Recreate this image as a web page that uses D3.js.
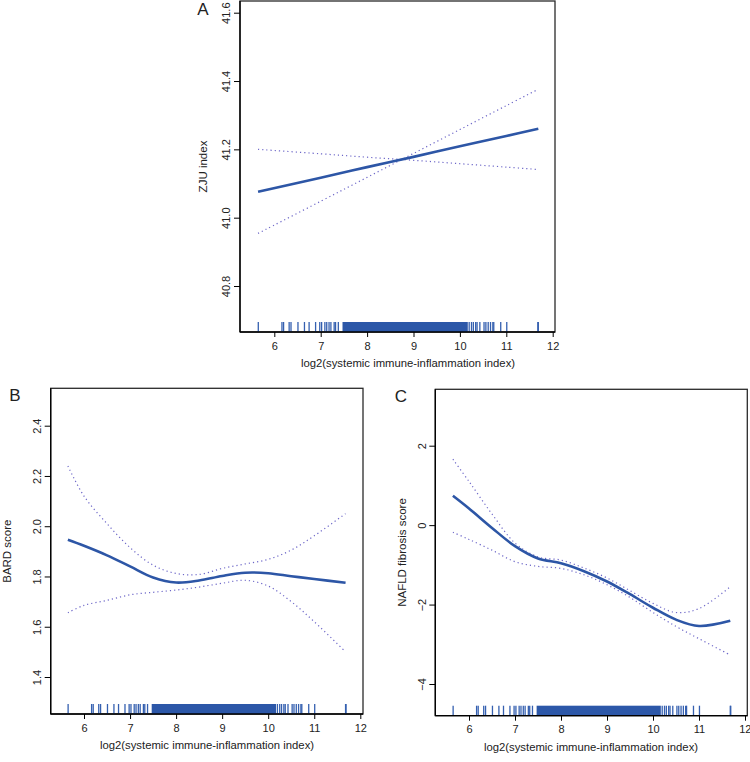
<!DOCTYPE html>
<html>
<head>
<meta charset="utf-8">
<script src="https://cdn.jsdelivr.net/npm/d3@7"></script>
<style>
  body { margin: 0; background: #fff; }
  text { font-family: "Liberation Sans", Arial, sans-serif; fill: #222; }
</style>
</head>
<body>
<script>
// ---- data ----
var xTicks = [6, 7, 8, 9, 10, 11, 12]

// panel A: ZJU index
var xsA = [5.65, 7, 8, 9, 10, 11, 11.69]
var fitA = [41.076, 41.117, 41.148, 41.178, 41.209, 41.239, 41.26]
var ci1A = [41.200, 41.187, 41.177, 41.168, 41.158, 41.148, 41.141]
var ci2A = [40.954, 41.048, 41.118, 41.188, 41.258, 41.328, 41.376]
var yTicksA = [40.8, 41.0, 41.2, 41.4, 41.6]

// panel B: BARD score
var xsB = [5.65, 6, 6.5, 7, 7.5, 8, 8.5, 9, 9.5, 10, 10.5, 11, 11.68]
var fitB = [1.946, 1.922, 1.884, 1.840, 1.796, 1.776, 1.784, 1.802, 1.815, 1.813, 1.801, 1.79, 1.775]
var upB = [2.24, 2.12, 2.01, 1.915, 1.845, 1.812, 1.808, 1.832, 1.85, 1.868, 1.905, 1.962, 2.05]
var loB = [1.656, 1.685, 1.705, 1.727, 1.737, 1.746, 1.758, 1.773, 1.785, 1.762, 1.70, 1.62, 1.50]
var yTicksB = [1.4, 1.6, 1.8, 2.0, 2.2, 2.4]

// panel C: NAFLD fibrosis score
var xsC = [5.65, 6, 6.5, 7, 7.5, 8, 8.5, 9, 9.5, 10, 10.5, 11, 11.68]
var fitC = [0.74, 0.42, -0.07, -0.53, -0.84, -0.96, -1.16, -1.42, -1.74, -2.08, -2.38, -2.54, -2.41]
var upC = [1.66, 1.1, 0.28, -0.45, -0.80, -0.88, -1.08, -1.33, -1.65, -1.97, -2.2, -2.1, -1.55]
var loC = [-0.18, -0.36, -0.63, -0.92, -1.04, -1.09, -1.25, -1.5, -1.82, -2.2, -2.55, -2.86, -3.27]
var yTicksC = [-4, -2, 0, 2]

// rug (same observations in every panel)
var rugSingles = [5.655, 6.165, 6.20, 6.32, 6.36, 6.51, 6.65, 6.75, 6.89, 6.98, 7.02, 7.09, 7.13,
  7.18, 7.22, 7.29, 7.32, 7.38, 10.2, 10.25, 10.29, 10.34, 10.37, 10.43, 10.52, 10.56, 10.61,
  10.66, 10.71, 10.73, 10.88, 11.01, 11.68, 11.69]
var rugDense = [7.47, 10.17]

var xTitle = "log2(systemic immune-inflammation index)"

// ---- layout ----
var panels = [
  { letter: "A", ylab: "ZJU index", xs: xsA, fit: fitA, ciA: ci1A, ciB: ci2A, yTicks: yTicksA, fmt: ".1f",
    box: [240, 555, 1, 332], xr: [274.3, 552.7], ydom: [40.8, 41.6], yr: [286, 12.7],
    letterPos: [203, 9], ylabX: 203, xlabX: 408 },
  { letter: "B", ylab: "BARD score", xs: xsB, fit: fitB, ciA: upB, ciB: loB, yTicks: yTicksB, fmt: ".1f",
    box: [50.7, 363, 388.3, 714], xr: [84, 360.3], ydom: [1.4, 2.4], yr: [677, 425.7],
    letterPos: [15, 395], ylabX: 7, xlabX: 207 },
  { letter: "C", ylab: "NAFLD fibrosis score", xs: xsC, fit: fitC, ciA: upC, ciB: loC, yTicks: yTicksC, fmt: "d",
    box: [435.3, 747.3, 389.3, 715.7], xr: [469, 745], ydom: [-4, 2], yr: [684, 445.7],
    letterPos: [401, 396], ylabX: 402, xlabX: 591 }
]

var svg = d3.select("body").append("svg")
  .attr("width", 750)
  .attr("height", 762)

panels.forEach(function(p) {
  var L = p.box[0], R = p.box[1], T = p.box[2], B = p.box[3]
  var x = d3.scaleLinear().domain([6, 12]).range(p.xr)
  var y = d3.scaleLinear().domain(p.ydom).range(p.yr)
  var g = svg.append("g")

  // frame
  g.append("rect")
    .attr("x", L).attr("y", T)
    .attr("width", R - L).attr("height", B - T)
    .attr("fill", "none").attr("stroke", "#2a2a2a").attr("stroke-width", 1.3)

  // rug
  g.append("rect")
    .attr("x", x(rugDense[0])).attr("y", B - 10)
    .attr("width", x(rugDense[1]) - x(rugDense[0])).attr("height", 10)
    .attr("fill", "#2c57a8")
  g.selectAll("line.rug")
    .data(rugSingles)
    .enter().append("line")
    .attr("class", "rug")
    .attr("x1", function(d) { return x(d) }).attr("x2", function(d) { return x(d) })
    .attr("y1", B - 10).attr("y2", B)
    .attr("stroke", "#3560b0").attr("stroke-width", 1.3)

  // curves
  var line = d3.line()
    .x(function(d, i) { return x(p.xs[i]) })
    .y(function(d) { return y(d) })
    .curve(d3.curveCatmullRom)

  ;[p.ciA, p.ciB].forEach(function(ci) {
    g.append("path")
      .attr("d", line(ci))
      .attr("fill", "none")
      .attr("stroke", "#6d67c8")
      .attr("stroke-width", 1.2)
      .attr("stroke-dasharray", "1.2,3")
  })
  g.append("path")
    .attr("d", line(p.fit))
    .attr("fill", "none")
    .attr("stroke", "#2d56a6")
    .attr("stroke-width", 2.6)

  // axes
  var xa = g.append("g")
    .attr("transform", "translate(0," + B + ")")
    .call(d3.axisBottom(x).tickValues(xTicks).tickSize(5).tickPadding(5).tickFormat(d3.format("d")))
  xa.select(".domain").attr("d", "M" + L + ",0H" + R).attr("stroke", "#000").attr("stroke-width", 1.3)
  xa.selectAll("text").attr("font-size", 11).style("font-family", "Liberation Sans, Arial, sans-serif")
  // keep the last label inside the window
  xa.selectAll("text").filter(function(d) { return x(d) > 740 }).attr("text-anchor", "end").attr("x", 6)

  var ya = g.append("g")
    .attr("transform", "translate(" + L + ",0)")
    .call(d3.axisLeft(y).tickValues(p.yTicks).tickSize(6).tickFormat(d3.format(p.fmt)))
  ya.select(".domain").attr("d", "M0," + T + "V" + B).attr("stroke", "#000").attr("stroke-width", 1.3)
  ya.selectAll("text")
    .attr("font-size", 11)
    .style("font-family", "Liberation Sans, Arial, sans-serif")
    .attr("text-anchor", "middle")
    .attr("x", 0).attr("y", 0).attr("dy", "0.35em")
    .attr("transform", "translate(-13.5,0) rotate(-90)")
  ya.selectAll("text").text(function(d) { return d < 0 ? "\u2212" + Math.abs(d) : d3.format(p.fmt)(d) })

  // titles
  g.append("text")
    .attr("x", p.xlabX).attr("y", B + 31).attr("dy", "0.35em")
    .attr("text-anchor", "middle").attr("font-size", 11.3)
    .text(xTitle)
  g.append("text")
    .attr("transform", "translate(" + p.ylabX + "," + ((T + B) / 2) + ") rotate(-90)")
    .attr("dy", "0.35em")
    .attr("text-anchor", "middle").attr("font-size", 11.5)
    .text(p.ylab)
  g.append("text")
    .attr("x", p.letterPos[0]).attr("y", p.letterPos[1]).attr("dy", "0.35em")
    .attr("text-anchor", "middle").attr("font-size", 17)
    .text(p.letter)
})
</script>
</body>
</html>
